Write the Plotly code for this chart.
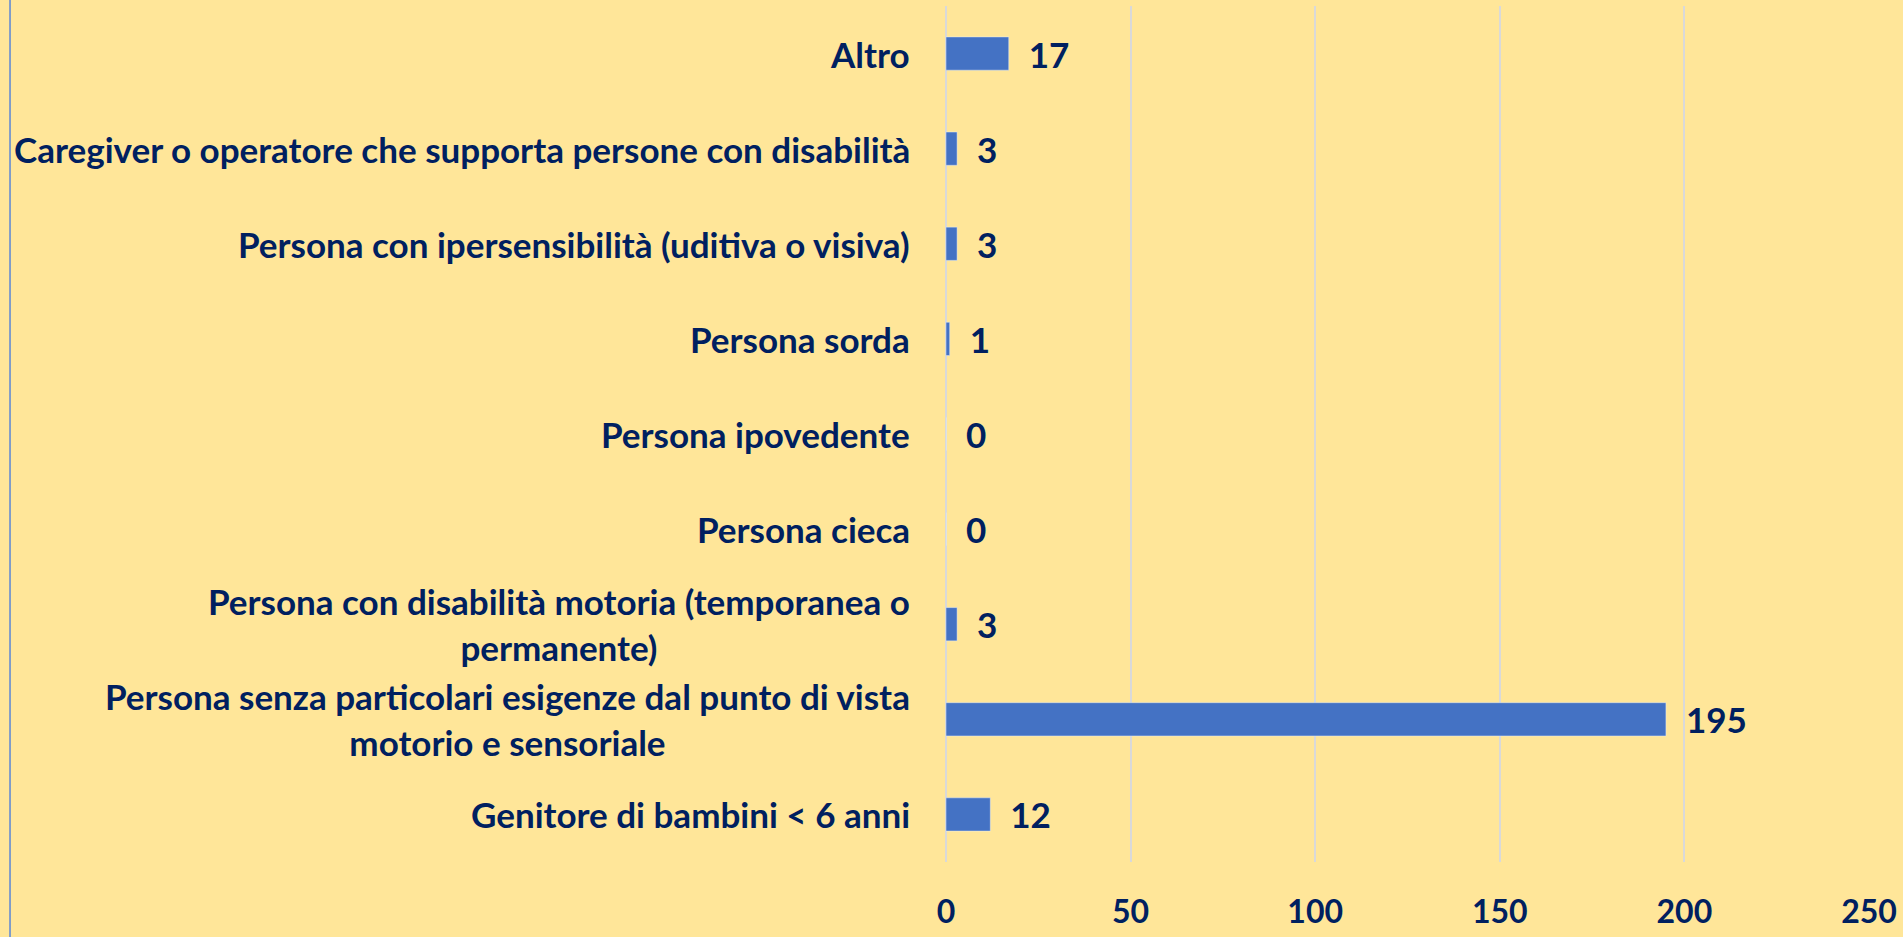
import plotly.graph_objects as go

# categorie (dal basso verso l'alto) e conteggi
categorie = [
    "Genitore di bambini < 6 anni",
    "Persona senza particolari esigenze dal punto di vista<br>motorio e sensoriale",
    "Persona con disabilità motoria (temporanea o<br>permanente)",
    "Persona cieca",
    "Persona ipovedente",
    "Persona sorda",
    "Persona con ipersensibilità (uditiva o visiva)",
    "Caregiver o operatore che supporta persone con disabilità",
    "Altro",
]
valori = [12, 195, 3, 0, 0, 1, 3, 3, 17]
tick_x = [0, 50, 100, 150, 200, 250]

NAVY = "#002060"
FONT = "Lato"
W, H = 1903, 937
ML, MR, MT, MB = 946, 32, 6, 75

fig = go.Figure()
fig.add_trace(go.Bar(
    x=valori, y=list(range(len(categorie))), orientation="h",
    marker=dict(color="#4472C4"),
    text=[f"  {v}" for v in valori], textposition="outside",
    constraintext="none",
    textfont=dict(family=FONT, size=35, color=NAVY, weight="bold"),
    cliponaxis=False,
))

# etichette categorie come annotazioni (centrate su più righe)
for i, c in enumerate(categorie):
    fig.add_annotation(
        x=0, xref="paper", y=i, yref="y", text=c, showarrow=False,
        xanchor="right", xshift=-34, align="center",
        font=dict(family=FONT, size=35, color=NAVY, weight="bold"),
    )

# linea verticale sul bordo sinistro
pw = W - ML - MR
ph = H - MT - MB
fig.add_shape(type="line", xref="paper", yref="paper",
              x0=(8 - ML) / pw, x1=(8 - ML) / pw,
              y0=-MB / ph, y1=1 + MT / ph,
              line=dict(color="#5B86D6", width=1.5))

fig.update_layout(
    width=W, height=H,
    margin=dict(l=ML, r=MR, t=MT, b=MB),
    paper_bgcolor="#FFE699", plot_bgcolor="#FFE699",
    bargap=0.65, showlegend=False,
)
fig.update_xaxes(
    range=[0, 250], tickvals=tick_x,
    showgrid=True, gridcolor="#D9D9D9", gridwidth=2,
    zeroline=True, zerolinecolor="#D9D9D9", zerolinewidth=2,
    showline=False, ticklabelstandoff=28,
    tickfont=dict(family=FONT, size=32, color=NAVY, weight="bold"),
)
fig.update_yaxes(showticklabels=False, showgrid=False, zeroline=False,
                 range=[-0.5, len(categorie) - 0.5])

fig.write_html("out.html", config={"displayModeBar": False},
               post_script="document.body.style.margin='0';document.body.style.overflow='hidden';")
